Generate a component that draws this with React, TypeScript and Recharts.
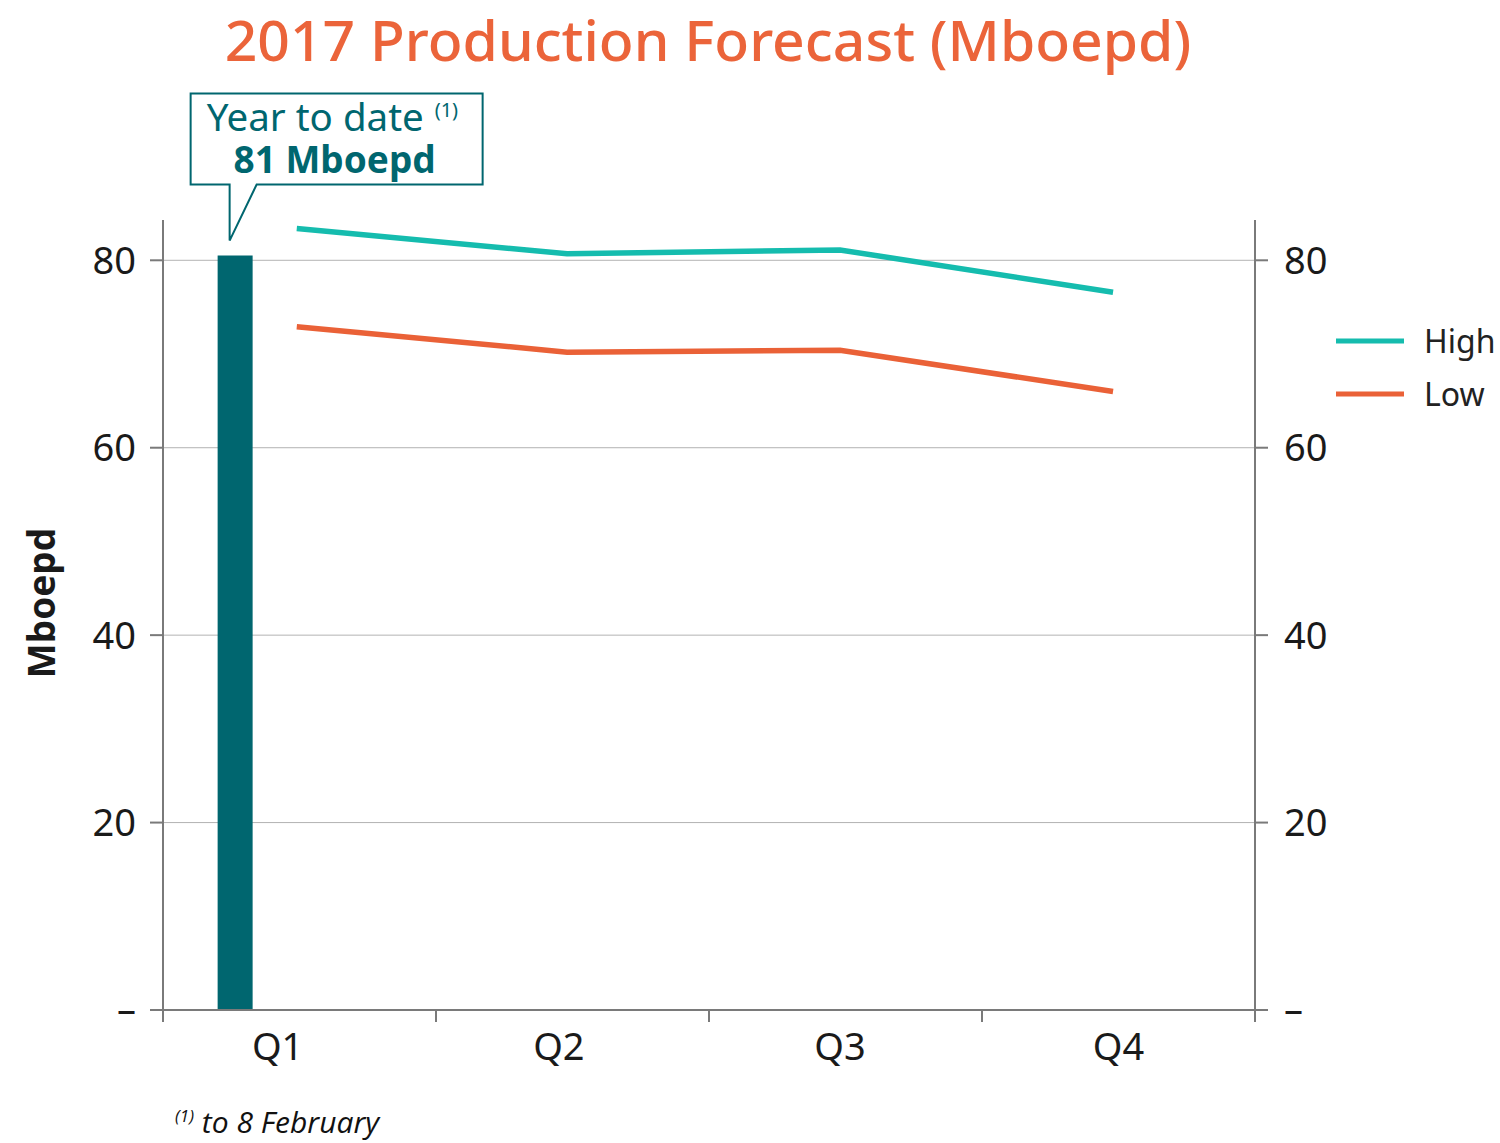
import React from "react";
import {
  ComposedChart,
  Bar,
  Line,
  XAxis,
  YAxis,
  CartesianGrid,
  Legend,
  LabelList,
} from "recharts";

// values
const quarters = ["Q1", "Q2", "Q3", "Q4"];
const quarterLabelPos = [0.42, 1.45, 2.48, 3.5];
const linePos = [0.49, 1.48, 2.48, 3.48];
const high = [83.4, 80.7, 81.1, 76.6];
const low = [72.9, 70.2, 70.4, 66.0];
const ytdPos = 0.265;
const ytdValue = 80.5;
const yTicks = [0, 20, 40, 60, 80];
const quarterEdges = [0, 1, 2, 3, 4];
const Y_MAX = 84.3;

const TEAL = "#00666f";
const HIGH = "#15bcae";
const LOW = "#ea6137";
const ORANGE = "#eb643a";
const AXIS = "#7a7a7a";
const FONT = "'Noto Sans', sans-serif";

const data = [
  { x: ytdPos, ytd: ytdValue },
  ...linePos.map((x, i) => ({ x, high: high[i], low: low[i] })),
];

const yTick = (v: number) => (v === 0 ? "–" : String(v));

const Callout = (props: any) => {
  const { x, y, value } = props;
  if (value == null) return null;
  const left = x - 27;
  const right = x + 265;
  const top = y - 162;
  const bottom = y - 71;
  const tipX = x + 12;
  return (
    <g>
      <path
        d={`M${tipX},${bottom} L${left},${bottom} L${left},${top} L${right},${top} L${right},${bottom} L${tipX + 27},${bottom} L${tipX},${y - 15} Z`}
        fill="#fff"
        stroke={TEAL}
        strokeWidth={2}
      />
      <text x={left + 16} y={top + 37} fill={TEAL} fontFamily={FONT} fontSize={38.5}>
        Year to date
      </text>
      <text x={left + 244} y={top + 23} fill={TEAL} fontFamily={FONT} fontSize={20}>
        (1)
      </text>
      <text x={left + 144} y={top + 79} textAnchor="middle" fill={TEAL} fontFamily={FONT} fontSize={37} fontWeight={700}>
        {Math.round(value)} Mboepd
      </text>
    </g>
  );
};

const LegendContent = (props: any) => {
  const items = (props.payload || []).filter((p: any) => p.type !== "none");
  return (
    <div style={{ fontFamily: FONT }}>
      {items.map((p: any) => (
        <div key={p.value} style={{ display: "flex", alignItems: "center", height: 53 }}>
          <svg width={68} height={8}>
            <line x1={0} y1={4} x2={68} y2={4} stroke={p.color} strokeWidth={5} />
          </svg>
          <span style={{ marginLeft: 20, fontSize: 32, color: "#222" }}>{p.value}</span>
        </div>
      ))}
    </div>
  );
};

const YLabel = () => (
  <text
    x={40}
    y={603}
    transform="rotate(-90 40 603)"
    textAnchor="middle"
    dominantBaseline="central"
    fontFamily={FONT}
    fontSize={37}
    fontWeight={700}
    fill="#1a1a1a"
  >
    Mboepd
  </text>
);

const tickStyle = { fill: "#1a1a1a", fontSize: 38, fontFamily: FONT };

// only the tick rows, no border line at the top of the plot
const gridRows = (props: any) => {
  const { yAxis, offset } = props;
  if (yAxis && typeof yAxis.scale === "function") return yTicks.map((t) => yAxis.scale(t));
  return yTicks.map((t) => offset.top + offset.height * (1 - t / Y_MAX));
};

export default function App() {
  return (
    <div
      style={{
        position: "absolute",
        left: 0,
        top: 0,
        width: 1500,
        height: 1143,
        background: "#fff",
        fontFamily: FONT,
        overflow: "hidden",
      }}
    >
      <div
        style={{
          position: "absolute",
          left: 0,
          top: 1,
          width: 1416,
          textAlign: "center",
          color: ORANGE,
          fontSize: 57,
          fontWeight: 500,
          lineHeight: "76px",
        }}
      >
        2017 Production Forecast (Mboepd)
      </div>
      <ComposedChart
        width={1500}
        height={1143}
        data={data}
        margin={{ top: 220, right: 145, bottom: 41, left: 0 }}
      >
        <CartesianGrid
          xAxisId="a"
          yAxisId="left"
          vertical={false}
          horizontalCoordinatesGenerator={gridRows}
          stroke="#b3b3b3"
          strokeWidth={1}
        />
        <XAxis
          xAxisId="a"
          dataKey="x"
          type="number"
          domain={[0, 4]}
          allowDataOverflow
          ticks={quarterEdges}
          tickFormatter={() => ""}
          tickSize={12}
          height={12}
          stroke={AXIS}
          strokeWidth={2}
          tickLine={{ stroke: AXIS, strokeWidth: 2 }}
        />
        <XAxis
          xAxisId="lab"
          dataKey="x"
          type="number"
          domain={[0, 4]}
          allowDataOverflow
          ticks={quarterLabelPos}
          tickFormatter={(v: number) => quarters[quarterLabelPos.indexOf(v)] ?? ""}
          axisLine={false}
          tickLine={false}
          tickSize={0}
          tickMargin={11}
          height={80}
          tick={tickStyle}
        />
        <YAxis
          yAxisId="left"
          domain={[0, Y_MAX]}
          allowDataOverflow
          ticks={yTicks}
          tickFormatter={yTick}
          width={163}
          tickSize={13}
          tickMargin={14}
          stroke={AXIS}
          strokeWidth={2}
          tick={tickStyle}
          label={<YLabel />}
        />
        <YAxis
          yAxisId="right"
          orientation="right"
          domain={[0, Y_MAX]}
          allowDataOverflow
          ticks={yTicks}
          tickFormatter={yTick}
          width={100}
          tickSize={13}
          tickMargin={16}
          stroke={AXIS}
          strokeWidth={2}
          tick={tickStyle}
        />
        <Legend
          layout="vertical"
          verticalAlign="middle"
          align="center"
          content={<LegendContent />}
          wrapperStyle={{ position: "absolute", left: 1336, top: 314, width: 164 }}
        />
        <Bar
          xAxisId="a"
          yAxisId="left"
          dataKey="ytd"
          name="Year to date"
          fill={TEAL}
          barSize={35}
          isAnimationActive={false}
          legendType="none"
        >
          <LabelList dataKey="ytd" content={<Callout />} />
        </Bar>
        <Line
          xAxisId="a"
          yAxisId="left"
          dataKey="high"
          name="High"
          stroke={HIGH}
          strokeWidth={5.5}
          dot={false}
          type="linear"
          isAnimationActive={false}
        />
        <Line
          xAxisId="a"
          yAxisId="left"
          dataKey="low"
          name="Low"
          stroke={LOW}
          strokeWidth={5.5}
          dot={false}
          type="linear"
          isAnimationActive={false}
        />
        <Line
          xAxisId="a"
          yAxisId="right"
          dataKey="high"
          stroke="none"
          dot={false}
          legendType="none"
          isAnimationActive={false}
        />
      </ComposedChart>
      <div
        style={{
          position: "absolute",
          left: 175,
          top: 1101,
          fontFamily: "'Open Sans', sans-serif",
          fontStyle: "italic",
          fontSize: 30,
          color: "#111",
          whiteSpace: "nowrap",
        }}
      >
        <sup style={{ fontSize: 17 }}>(1)</sup> to 8 February
      </div>
    </div>
  );
}
